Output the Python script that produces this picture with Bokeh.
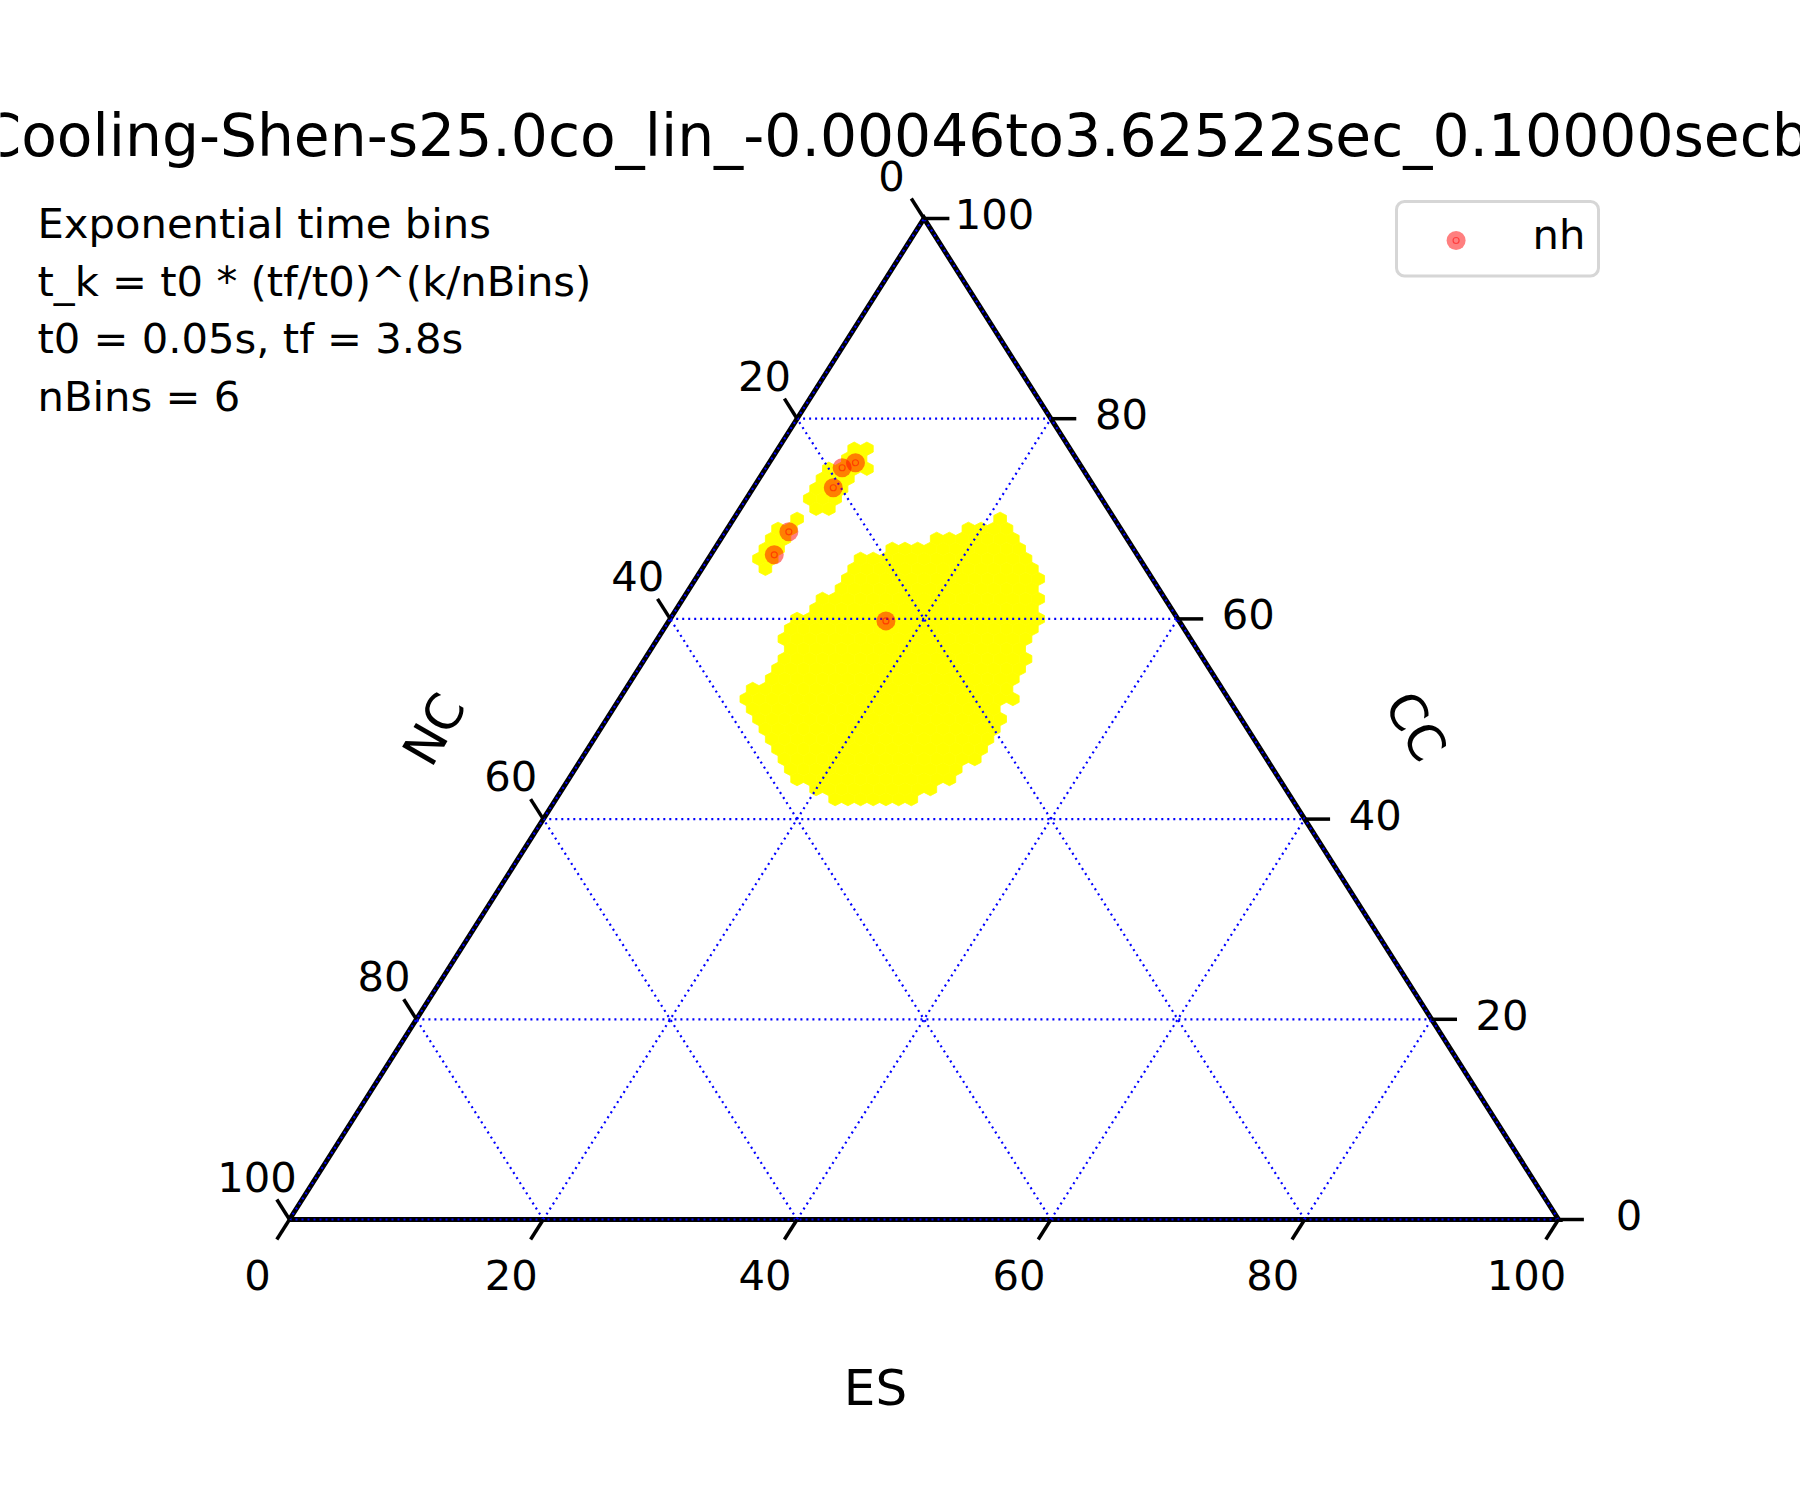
import numpy as np
from bokeh.plotting import figure
from bokeh.models import Range1d
from bokeh.core.properties import value
from bokeh.embed import file_html
from bokeh.resources import INLINE

# ---------------- data ----------------
title_text = "Cooling-Shen-s25.0co_lin_-0.00046to3.62522sec_0.10000secb"
info_lines = ["Exponential time bins", "t_k = t0 * (tf/t0)^(k/nBins)",
              "t0 = 0.05s, tf = 3.8s", "nBins = 6"]
axis_names = {"bottom": "ES", "right": "CC", "left": "NC"}
tick_values = [0, 20, 40, 60, 80, 100]
tick_labels = ["0", "20", "40", "60", "80", "100"]
legend_label = "nh"

# scatter points "nh" (ES %, CC %)
nh_es = [6.8, 6.0, 6.3, 5.0, 5.0, 17.1]
nh_cc = [75.6, 75.1, 73.1, 68.7, 66.4, 59.8]

# main hexbin blob: per CC row, the ES range that is filled
blob_cc = [42, 43, 44, 45, 46, 47, 48, 49, 50, 51, 52, 53, 54, 55, 56,
           57, 58, 59, 60, 61, 62, 63, 64, 65, 66, 67, 68, 69, 70]
blob_es_min = [22, 20, 18, 17, 16, 15, 14, 13, 12, 11, 10, 10, 11, 11, 11,
               11, 10, 10, 10, 11, 11, 12, 12, 12, 12, 14, 17, 19, 21]
blob_es_max = [28, 29, 30, 30, 31, 31, 31, 31, 31, 30, 31, 30, 30, 30, 30,
               29, 29, 29, 29, 28, 28, 27, 27, 26, 25, 24, 23, 22, 21]

# small hexbin clusters near the upper points (ES, CC of each cell)
small_es = [6, 7, 6, 7, 5, 6, 7, 8, 5, 6, 7, 5, 6, 7, 5, 6, 7, 6, 7,
            5, 4, 5, 4, 5, 4, 5, 4, 5, 5]
small_cc = [77, 77, 76, 76, 75, 75, 75, 75, 74, 74, 74, 73, 73, 73, 72, 72, 72, 71, 71,
            70, 69, 69, 68, 68, 67, 67, 66, 66, 65]

# ---------------- layout (pixel geometry of the triangle) ----------------
W, H = 1800, 1500
X0PX, Y0PX = 289.0, 1219.0      # bottom-left corner in pixels
SX, SY = 12.69, 10.01           # pixels per unit horizontally / vertically


def px_x(px):
    return (px - X0PX) / SX


def px_y(py):
    return (Y0PX - py) / SY


def proj(es, cc):
    es = np.asarray(es, dtype=float)
    cc = np.asarray(cc, dtype=float)
    return es + cc / 2.0, cc


p = figure(width=W, height=H,
           x_range=Range1d(px_x(0), px_x(W)), y_range=Range1d(px_y(H), px_y(0)),
           output_backend="svg", toolbar_location=None,
           x_axis_location=None, y_axis_location=None,
           min_border=0, outline_line_color=None)
p.grid.visible = False
p.background_fill_color = "white"
p.border_fill_color = "white"

FONT = value("DejaVu Sans")

# ---------------- hexagonal heatmap cells ----------------
cells_es, cells_cc = [], []
for cc, e0, e1 in zip(blob_cc, blob_es_min, blob_es_max):
    for e in range(e0, e1 + 1):
        cells_es.append(e)
        cells_cc.append(cc)
cells_es += list(small_es)
cells_cc += list(small_cc)

hex_da = [-1/3, 1/3, 2/3, 1/3, -1/3, -2/3]
hex_db = [2/3, 1/3, -1/3, -2/3, -1/3, 1/3]
xs, ys = [], []
for e, c in zip(cells_es, cells_cc):
    vx, vy = proj([e + d for d in hex_da], [c + d for d in hex_db])
    xs.append(list(vx))
    ys.append(list(vy))
p.patches(xs, ys, fill_color="#ffff00", line_color="#ffff00", line_width=0.8)

# ---------------- gridlines ----------------
gx, gy = [], []
for v in tick_values:
    # constant CC
    a = proj([0, 100 - v], [v, v]); gx.append(list(a[0])); gy.append(list(a[1]))
    # constant ES
    a = proj([v, v], [0, 100 - v]); gx.append(list(a[0])); gy.append(list(a[1]))
    # constant NC
    a = proj([100 - v, 0], [0, 100 - v]); gx.append(list(a[0])); gy.append(list(a[1]))

# boundary (black, thick)
bx, by = proj([0, 100, 0, 0], [0, 0, 100, 0])
p.line(list(bx), list(by), line_color="black", line_width=5, line_join="miter")
p.multi_line(gx, gy, line_color="blue", line_width=2.2, line_dash="2 4")

# ---------------- ticks ----------------
TL = 2.0
tx, ty = [], []
lab_x, lab_y, lab_t = [], [], []
for v, t in zip(tick_values, tick_labels):
    # bottom axis (ES): tick along constant-ES direction, below the edge
    x0, y0 = proj(v, 0)
    tx.append([float(x0), float(x0) - TL / 2]); ty.append([0.0, -TL])
    lab_x.append(float(x0) - 32 / SX); lab_y.append(-55 / SY); lab_t.append(t)
    # right axis (CC): horizontal tick to the right
    x0, y0 = proj(100 - v, v)
    tx.append([float(x0), float(x0) + TL]); ty.append([float(y0), float(y0)])
    lab_x.append(float(x0) + 70.5 / SX); lab_y.append(float(y0) + 4.5 / SY); lab_t.append(t)
    # left axis (NC): tick along constant-NC direction, up-left of the edge
    x0, y0 = proj(0, 100 - v)
    tx.append([float(x0), float(x0) - TL / 2]); ty.append([float(y0), float(y0) + TL])
    lab_x.append(float(x0) - 32.5 / SX); lab_y.append(float(y0) + 43 / SY); lab_t.append(t)
p.multi_line(tx, ty, line_color="black", line_width=3.5)
p.text(x=lab_x, y=lab_y, text=lab_t, text_font=FONT, text_font_size=value("41.7px"),
       text_align="center", text_baseline="middle", text_color="black")

# axis titles
p.text(x=[px_x(875)], y=[px_y(1387)], text=[axis_names["bottom"]], text_font=FONT,
       text_font_size=value("50px"), text_align="center", text_baseline="middle")
p.text(x=[px_x(434)], y=[px_y(729)], text=[axis_names["left"]], text_font=FONT,
       text_font_size=value("50px"), text_align="center", text_baseline="middle",
       angle=np.pi / 3)
p.text(x=[px_x(1415)], y=[px_y(726)], text=[axis_names["right"]], text_font=FONT,
       text_font_size=value("50px"), text_align="center", text_baseline="middle",
       angle=-np.pi / 3)

# ---------------- scatter points ----------------
nx, ny = proj(nh_es, nh_cc)
p.scatter(list(nx), list(ny), size=19, fill_color="red", fill_alpha=0.5, line_color=None)
p.scatter(list(nx), list(ny), size=6, fill_color=None, line_color="red", line_alpha=0.5,
          line_width=1.2)

# ---------------- title ----------------
p.text(x=[px_x(-20)], y=[px_y(135)], text=[title_text], text_font=FONT,
       text_font_size=value("58.3px"), text_align="left", text_baseline="alphabetic")

# ---------------- info text ----------------
base0 = 223.0
p.text(x=[px_x(37)] * len(info_lines),
       y=[px_y(base0 + 57.7 * i) for i in range(len(info_lines))],
       text=info_lines, text_font=FONT, text_font_size=value("41.7px"),
       text_align="left", text_baseline="alphabetic")

# ---------------- legend (drawn by hand) ----------------
p.quad(left=[px_x(1396)], right=[px_x(1598)], top=[px_y(201)], bottom=[px_y(275.5)],
       fill_color="white", fill_alpha=0.8, line_color="#d6d6d6", line_width=3,
       border_radius=8)
p.scatter([px_x(1455.6)], [px_y(240)], size=19, fill_color="red", fill_alpha=0.5,
          line_color=None)
p.scatter([px_x(1455.6)], [px_y(240)], size=6, fill_color=None, line_color="red",
          line_alpha=0.5, line_width=1.2)
p.text(x=[px_x(1532)], y=[px_y(234)], text=[legend_label], text_font=FONT,
       text_font_size=value("41.7px"), text_align="left", text_baseline="middle")

open("out.html", "w").write(file_html(p, INLINE))
